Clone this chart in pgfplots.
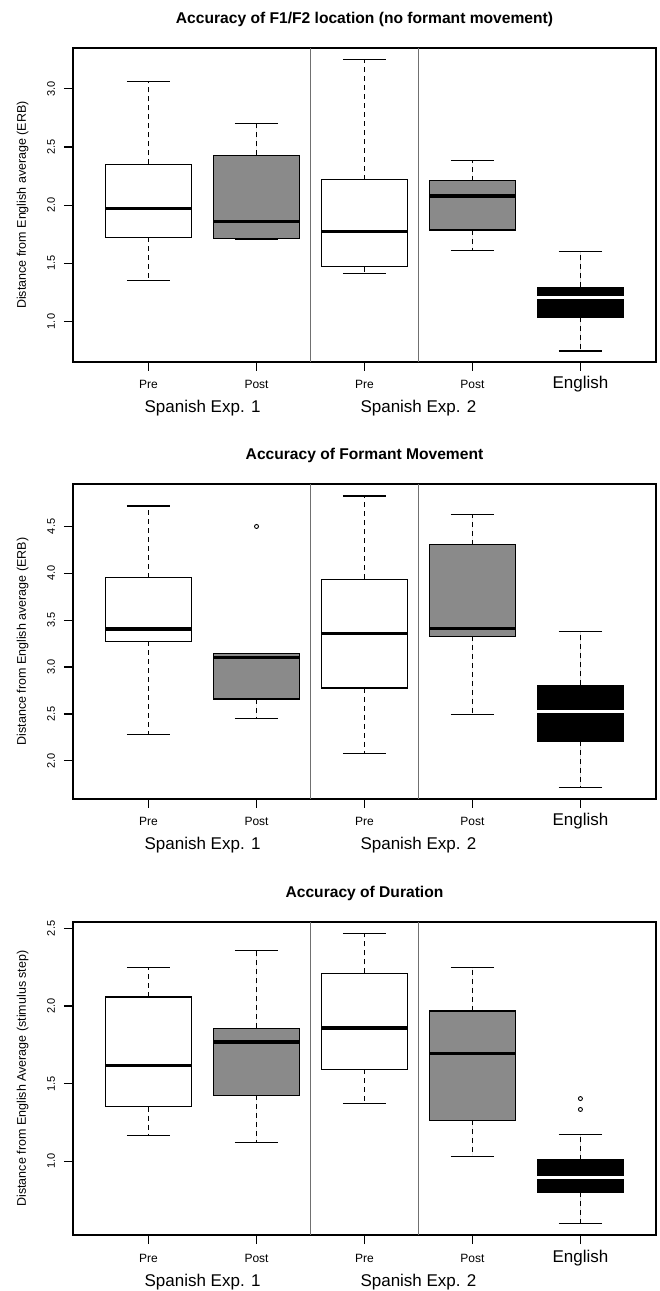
\documentclass[border=0pt]{standalone}
\usepackage{fontspec}
\setmainfont{Liberation Sans}
\usepackage{pgfplots}
\pgfplotsset{compat=1.18}
\usepgfplotslibrary{statistics}
\definecolor{boxgray}{HTML}{8A8A8A}
\definecolor{sepgray}{HTML}{707070}
\pgfplotsset{
  boxplot/draw/lower whisker/.code={%
    \draw[line width=1.2pt, dash pattern=on 5pt off 4pt]
      (boxplot box cs:\pgfplotsboxplotvalue{lower quartile},0.5) --
      (boxplot box cs:\pgfplotsboxplotvalue{lower whisker},0.5);
    \draw[line width=1.3pt, solid]
      (boxplot whisker cs:\pgfplotsboxplotvalue{lower whisker},0) --
      (boxplot whisker cs:\pgfplotsboxplotvalue{lower whisker},1);
  },
  boxplot/draw/upper whisker/.code={%
    \draw[line width=1.2pt, dash pattern=on 5pt off 4pt]
      (boxplot box cs:\pgfplotsboxplotvalue{upper quartile},0.5) --
      (boxplot box cs:\pgfplotsboxplotvalue{upper whisker},0.5);
    \draw[line width=1.3pt, solid]
      (boxplot whisker cs:\pgfplotsboxplotvalue{upper whisker},0) --
      (boxplot whisker cs:\pgfplotsboxplotvalue{upper whisker},1);
  },
  rpanel/.style={
    anchor=south west, scale only axis, width=583pt,
    xmin=0.3, xmax=5.7,
    boxplot/draw direction=y,
    boxplot/box extend=0.8, boxplot/whisker extend=0.4,
    xtick={1,2,3,4,5},
    xticklabels={Pre,Post,Pre,Post,{\fontsize{17}{17}\selectfont English}},
    xticklabel style={anchor=base, yshift=-18pt, font=\fontsize{12}{12}\selectfont},
    yticklabel style={xshift=-9pt, rotate=90, anchor=base, font=\fontsize{11}{11}\selectfont},
    /pgf/number format/.cd, fixed, fixed zerofill, precision=1, assume math mode=true, /pgfplots/.cd,
    tick align=outside, major tick length=9pt,
    xtick pos=bottom, ytick pos=left,
    tick style={black, line width=1.2pt},
    axis line style={line width=1.2pt},
    extra x ticks={2.5,3.5}, extra x tick labels={},
    extra x tick style={grid=major, major tick length=0pt,
      major grid style={sepgray, line width=0.9pt}},
    clip=false,
  },
  whitebox/.style={draw=black, fill=white, line width=1.3pt, solid,
    boxplot/every median/.style={line width=3.4pt}},
  graybox/.style={draw=black, fill=boxgray, line width=1.3pt, solid,
    boxplot/every median/.style={line width=3.4pt}},
  blackbox/.style={draw=black, fill=black, line width=1.3pt, solid,
    boxplot/every median/.style={draw=white, line width=2.8pt}},
  outl/.style={mark=o, mark size=2pt, mark options={solid, line width=0.9pt, fill=none}},
}
\begin{document}
\begin{tikzpicture}
\path[use as bounding box] (0,0) rectangle (660pt,1291pt);
% ---------------- Panel 1 ----------------
\begin{axis}[rpanel, at={(73pt,929pt)}, height=314pt,
  ymin=0.652, ymax=3.351, ytick={1.0,1.5,2.0,2.5,3.0}]
\addplot[whitebox, boxplot prepared={draw position=1,
  lower whisker=1.351, lower quartile=1.725, median=1.970, upper quartile=2.350, upper whisker=3.063}] coordinates {};
\addplot[graybox, boxplot prepared={draw position=2,
  lower whisker=1.705, lower quartile=1.711, median=1.858, upper quartile=2.427, upper whisker=2.701}] coordinates {};
\addplot[whitebox, boxplot prepared={draw position=3,
  lower whisker=1.414, lower quartile=1.472, median=1.774, upper quartile=2.220, upper whisker=3.250}] coordinates {};
\addplot[graybox, boxplot prepared={draw position=4,
  lower whisker=1.610, lower quartile=1.786, median=2.079, upper quartile=2.211, upper whisker=2.381}] coordinates {};
\addplot[blackbox, boxplot prepared={draw position=5,
  lower whisker=0.747, lower quartile=1.040, median=1.207, upper quartile=1.294, upper whisker=1.601}] coordinates {};
\node[anchor=base, font=\bfseries\fontsize{15.6}{16}\selectfont] at ([yshift=24pt]rel axis cs:0.5,1) {Accuracy of F1/F2 location (no formant movement)};
\node[rotate=90, anchor=base, font=\fontsize{12.5}{13}\selectfont] at ([xshift=-47pt]rel axis cs:0,0.5) {Distance from English average (ERB)};
\node[anchor=base, font=\fontsize{17}{17}\selectfont] at ([yshift=-51pt]axis cs:1.5,0.652) {Spanish Exp. 1};
\node[anchor=base, font=\fontsize{17}{17}\selectfont] at ([yshift=-51pt]axis cs:3.5,0.652) {Spanish Exp. 2};
\end{axis}
% ---------------- Panel 2 ----------------
\begin{axis}[rpanel, at={(73pt,492pt)}, height=315pt,
  ymin=1.593, ymax=4.953, ytick={2.0,2.5,3.0,3.5,4.0,4.5}]
\addplot[whitebox, boxplot prepared={draw position=1,
  lower whisker=2.282, lower quartile=3.273, median=3.405, upper quartile=3.954, upper whisker=4.718}] coordinates {};
\addplot[graybox, outl, boxplot prepared={draw position=2,
  lower whisker=2.453, lower quartile=2.660, median=3.102, upper quartile=3.148, upper whisker=3.148}] coordinates {(0,4.5)};
\addplot[whitebox, boxplot prepared={draw position=3,
  lower whisker=2.075, lower quartile=2.777, median=3.359, upper quartile=3.937, upper whisker=4.825}] coordinates {};
\addplot[graybox, boxplot prepared={draw position=4,
  lower whisker=2.496, lower quartile=3.327, median=3.409, upper quartile=4.307, upper whisker=4.625}] coordinates {};
\addplot[blackbox, boxplot prepared={draw position=5,
  lower whisker=1.718, lower quartile=2.207, median=2.524, upper quartile=2.806, upper whisker=3.380}] coordinates {};
\node[anchor=base, font=\bfseries\fontsize{15.6}{16}\selectfont] at ([yshift=24pt]rel axis cs:0.5,1) {Accuracy of Formant Movement};
\node[rotate=90, anchor=base, font=\fontsize{12.5}{13}\selectfont] at ([xshift=-47pt]rel axis cs:0,0.5) {Distance from English average (ERB)};
\node[anchor=base, font=\fontsize{17}{17}\selectfont] at ([yshift=-51pt]axis cs:1.5,1.593) {Spanish Exp. 1};
\node[anchor=base, font=\fontsize{17}{17}\selectfont] at ([yshift=-51pt]axis cs:3.5,1.593) {Spanish Exp. 2};
\end{axis}
% ---------------- Panel 3 ----------------
\begin{axis}[rpanel, at={(73pt,56pt)}, height=313pt,
  ymin=0.524, ymax=2.541, ytick={1.0,1.5,2.0,2.5}]
\addplot[whitebox, boxplot prepared={draw position=1,
  lower whisker=1.167, lower quartile=1.352, median=1.616, upper quartile=2.058, upper whisker=2.247}] coordinates {};
\addplot[graybox, boxplot prepared={draw position=2,
  lower whisker=1.120, lower quartile=1.423, median=1.768, upper quartile=1.856, upper whisker=2.356}] coordinates {};
\addplot[whitebox, boxplot prepared={draw position=3,
  lower whisker=1.373, lower quartile=1.592, median=1.858, upper quartile=2.210, upper whisker=2.466}] coordinates {};
\addplot[graybox, boxplot prepared={draw position=4,
  lower whisker=1.030, lower quartile=1.262, median=1.693, upper quartile=1.968, upper whisker=2.249}] coordinates {};
\addplot[blackbox, outl, boxplot prepared={draw position=5,
  lower whisker=0.599, lower quartile=0.798, median=0.895, upper quartile=1.009, upper whisker=1.172}] coordinates {(0,1.333) (0,1.403)};
\node[anchor=base, font=\bfseries\fontsize{15.6}{16}\selectfont] at ([yshift=24pt]rel axis cs:0.5,1) {Accuracy of Duration};
\node[rotate=90, anchor=base, font=\fontsize{12.5}{13}\selectfont] at ([xshift=-47pt]rel axis cs:0,0.5) {Distance from English Average (stimulus step)};
\node[anchor=base, font=\fontsize{17}{17}\selectfont] at ([yshift=-51pt]axis cs:1.5,0.524) {Spanish Exp. 1};
\node[anchor=base, font=\fontsize{17}{17}\selectfont] at ([yshift=-51pt]axis cs:3.5,0.524) {Spanish Exp. 2};
\end{axis}
\end{tikzpicture}
\end{document}
